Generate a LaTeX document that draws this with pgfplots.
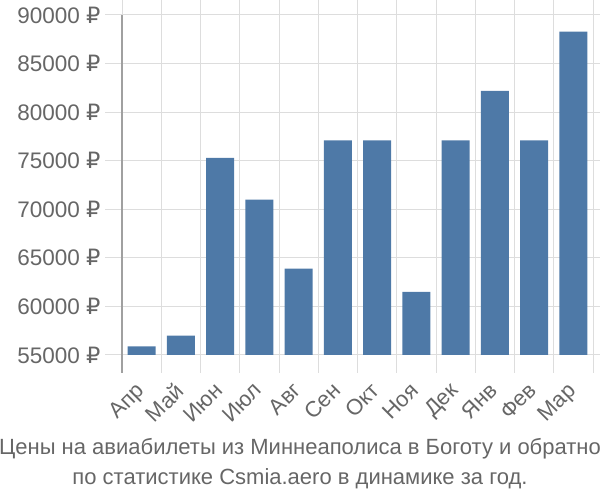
\documentclass[border=0pt]{standalone}
\usepackage{pgfplots}
\pgfplotsset{compat=1.18}
\usepackage{fontspec}
\setmainfont{Liberation Sans}
\newfontfamily\rubfont{DejaVu Sans}
\newcommand{\rub}{{\rubfont ₽}}
\definecolor{barblue}{RGB}{78,121,167}
\definecolor{txt}{RGB}{102,102,102}
\definecolor{gridc}{RGB}{221,221,221}
\definecolor{axc}{RGB}{160,160,160}
\begin{document}
\begin{tikzpicture}
\useasboundingbox (0,0) rectangle (600pt,500pt);
\begin{axis}[
  at={(122pt,145pt)}, anchor=south west,
  scale only axis, width=471pt, height=340pt,
  ybar, bar width=0.71,
  xmin=-0.5, xmax=11.5, ymin=55000, ymax=90000,
  xtick={0,...,11},
  xticklabels={Апр,Май,Июн,Июл,Авг,Сен,Окт,Ноя,Дек,Янв,Фев,Мар},
  minor xtick={-0.5,0.5,...,11.5},
  ytick={55000,60000,...,90000},
  yticklabels={55000 \rub,60000 \rub,65000 \rub,70000 \rub,75000 \rub,80000 \rub,85000 \rub,90000 \rub},
  scaled y ticks=false,
  tick align=outside,
  major tick length=17pt, minor tick length=18pt,
  major x tick style={draw=none},
  minor x tick style={gridc, line width=1pt},
  ytick style={gridc, line width=1pt},
  xminorgrids, ymajorgrids,
  grid style={gridc, line width=1pt},
  minor grid style={gridc, line width=1pt},
  axis line style={draw=none},
  tick label style={font=\fontsize{22}{25}\selectfont, text=txt},
  yticklabel style={anchor=east, xshift=-1pt, font=\fontsize{22.5}{25}\selectfont},
  xticklabel style={rotate=45, anchor=north east, xshift=-8pt, yshift=2pt},
  clip=true,
]
\addplot[fill=barblue, draw=none] coordinates {
  (0,55900) (1,57000) (2,75300) (3,71000) (4,63900) (5,77100)
  (6,77100) (7,61500) (8,77100) (9,82200) (10,77100) (11,88300)
};
\end{axis}
\draw[axc, line width=1.2pt] (122pt,127pt) -- (122pt,485pt);
\node[anchor=base, text=txt, font=\fontsize{22}{25}\selectfont] at (300pt,45pt) {Цены на авиабилеты из Миннеаполиса в Боготу и обратно};
\node[anchor=base, text=txt, font=\fontsize{22}{25}\selectfont] at (300pt,15pt) {по статистике Csmia.aero в динамике за год.};
\end{tikzpicture}
\end{document}
